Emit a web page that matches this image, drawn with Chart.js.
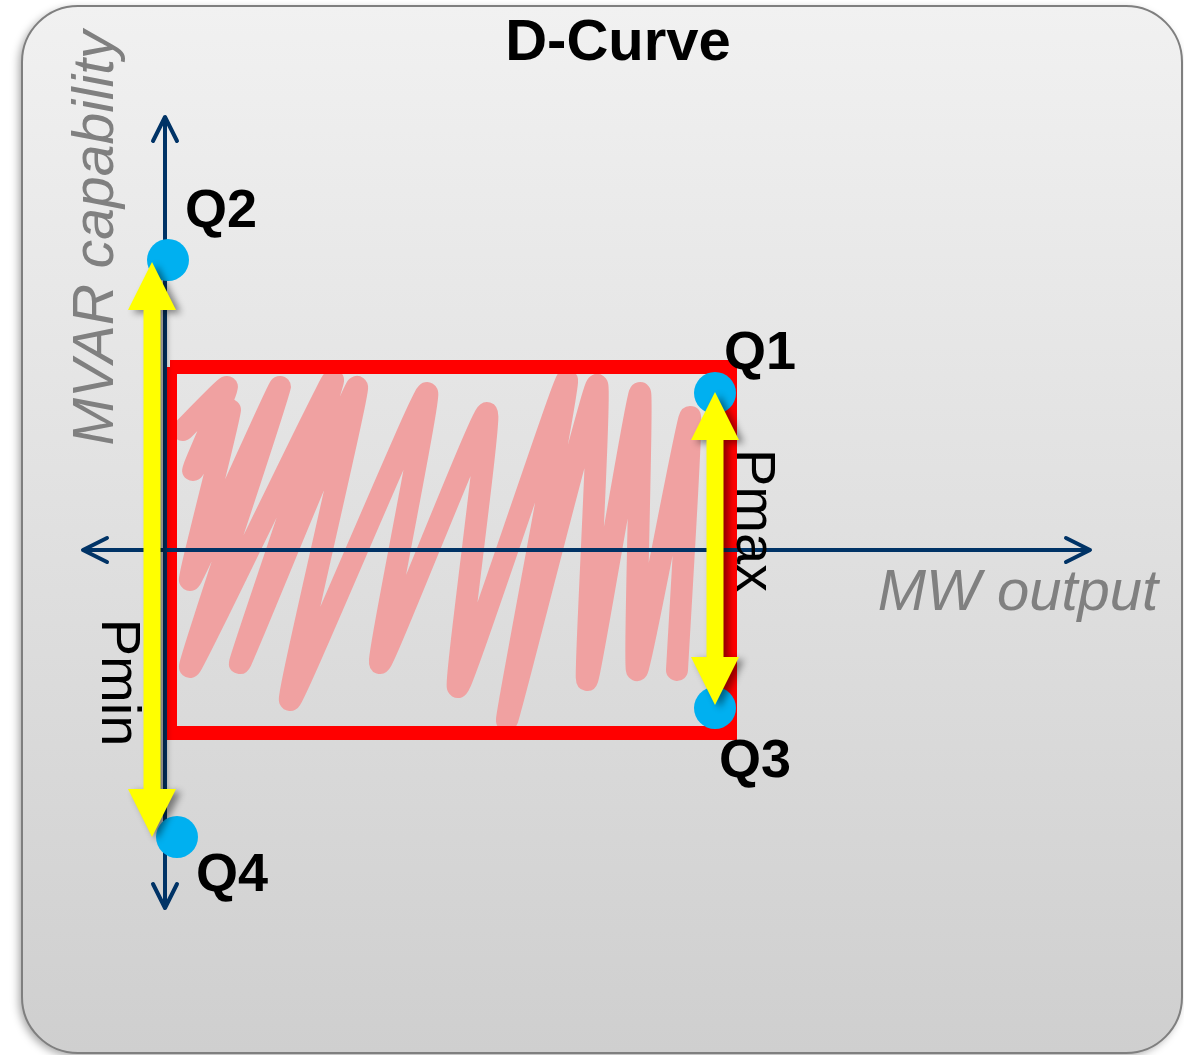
<!DOCTYPE html>
<html lang="en">
<head>
    <meta charset="UTF-8">
    <title>D-Curve</title>
    <script src="https://cdn.jsdelivr.net/npm/chart.js"></script>
    <style>
        html, body { margin: 0; padding: 0; background: #ffffff; }
        #wrap { width: 1184px; height: 1055px; position: relative; }
    </style>
</head>
<body>
    <div id="wrap">
        <canvas id="dcurve" width="1184" height="1055"></canvas>
    </div>

    <script>
        // Units: MW along x, MVAR along y (origin where the axes cross)
        const pMin = 0.05;
        const pMax = 5.65;
        const qTop = 1.83;
        const qBottom = -1.83;

        // capability corner points Q1..Q4
        const qNames = ['Q1', 'Q2', 'Q3', 'Q4'];
        const qX = [5.50, 0.03, 5.50, 0.12];
        const qY = [1.57, 2.90, -1.58, -2.87];

        // yellow range arrows (Pmin on the left, Pmax on the right)
        const rangeNames = ['Pmin', 'Pmax'];
        const rangeX = [-0.13, 5.50];
        const rangeTop = [2.88, 1.58];
        const rangeBottom = [-2.87, -1.55];

        // axis extents
        const axisX = [-0.82, 9.25];
        const axisY = [-3.58, 4.33];

        // hand-drawn shading inside the box
        const hatchX = [0.18, 0.62, 0.28, 0.65, 0.25, 1.15, 0.25, 1.68, 0.75, 1.92, 1.25, 2.62,
                        2.15, 3.22, 2.93, 4.02, 3.42, 4.32, 4.22, 4.75, 4.72, 5.25, 5.12];
        const hatchY = [1.20, 1.63, 0.80, 1.40, -0.30, 1.63, -1.17, 1.70, -1.13, 1.63, -1.50, 1.57,
                        -1.13, 1.37, -1.37, 1.70, -1.70, 1.65, -1.30, 1.57, -1.20, 1.33, -1.20];

        const toPts = (xs, ys) => xs.map((x, i) => ({ x: x, y: ys[i] }));

        const hatchPts = toPts(hatchX, hatchY);
        const boxPts = toPts([pMin, pMax, pMax, pMin, pMin], [qTop, qTop, qBottom, qBottom, qTop]);
        const qPts = toPts(qX, qY);

        const navy = '#003366';

        function panel(ctx, w, h) {
            const x = 22, y = 6, pw = w - 24, ph = h - 8, r = 56;
            ctx.save();
            ctx.shadowColor = 'rgba(0,0,0,0.35)';
            ctx.shadowBlur = 8;
            ctx.shadowOffsetX = -3;
            ctx.shadowOffsetY = 3;
            const g = ctx.createLinearGradient(0, y, 0, y + ph);
            g.addColorStop(0, '#f1f1f1');
            g.addColorStop(1, '#cfcfcf');
            ctx.fillStyle = g;
            ctx.beginPath();
            ctx.roundRect(x, y, pw, ph, r);
            ctx.fill();
            ctx.restore();
            ctx.save();
            ctx.strokeStyle = '#7f7f7f';
            ctx.lineWidth = 2;
            ctx.beginPath();
            ctx.roundRect(x, y, pw, ph, r);
            ctx.stroke();
            ctx.restore();
        }

        function chevron(ctx, tx, ty, dx, dy) {
            // dx,dy is the unit direction the arrow points to
            const back = 24, side = 12;
            ctx.beginPath();
            ctx.moveTo(tx - dx * back - dy * side, ty - dy * back + dx * side);
            ctx.lineTo(tx, ty);
            ctx.lineTo(tx - dx * back + dy * side, ty - dy * back - dx * side);
            ctx.stroke();
        }

        function doubleArrow(ctx, x, y1, y2) {
            const shaft = 17, head = 48, len = 48;
            ctx.beginPath();
            ctx.moveTo(x, y1);
            ctx.lineTo(x + head / 2, y1 + len);
            ctx.lineTo(x + shaft / 2, y1 + len);
            ctx.lineTo(x + shaft / 2, y2 - len);
            ctx.lineTo(x + head / 2, y2 - len);
            ctx.lineTo(x, y2);
            ctx.lineTo(x - head / 2, y2 - len);
            ctx.lineTo(x - shaft / 2, y2 - len);
            ctx.lineTo(x - shaft / 2, y1 + len);
            ctx.lineTo(x - head / 2, y1 + len);
            ctx.closePath();
            ctx.fill();
        }

        const diagram = {
            id: 'diagram',
            beforeDraw(chart) {
                panel(chart.ctx, chart.width, chart.height);
            },
            afterDatasetsDraw(chart) {
                const ctx = chart.ctx;
                const xs = chart.scales.x, ys = chart.scales.y;
                const px = v => xs.getPixelForValue(v);
                const py = v => ys.getPixelForValue(v);

                // axis arrow heads
                ctx.save();
                ctx.strokeStyle = navy;
                ctx.lineWidth = 4;
                ctx.lineCap = 'round';
                ctx.lineJoin = 'round';
                chevron(ctx, px(0), py(axisY[1]), 0, -1);
                chevron(ctx, px(0), py(axisY[0]), 0, 1);
                chevron(ctx, px(axisX[0]), py(0), -1, 0);
                chevron(ctx, px(axisX[1]), py(0), 1, 0);
                ctx.restore();

                // yellow Pmin / Pmax arrows
                ctx.save();
                ctx.fillStyle = '#ffff00';
                ctx.shadowColor = 'rgba(0,0,0,0.45)';
                ctx.shadowBlur = 7;
                ctx.shadowOffsetX = 5;
                ctx.shadowOffsetY = 3;
                rangeX.forEach((v, i) => doubleArrow(ctx, px(v), py(rangeTop[i]), py(rangeBottom[i])));
                ctx.restore();

                ctx.save();
                ctx.fillStyle = '#000000';
                ctx.textAlign = 'center';

                // title
                ctx.font = 'bold 58px "Liberation Sans", Arial, sans-serif';
                ctx.textBaseline = 'alphabetic';
                ctx.fillText('D-Curve', 618, 60);

                // Q labels next to their points
                const qOff = [[45, -39], [53, -48], [40, 54], [55, 39]];
                ctx.font = 'bold 54px "Liberation Sans", Arial, sans-serif';
                ctx.textBaseline = 'middle';
                qNames.forEach((n, i) => {
                    ctx.fillText(n, px(qX[i]) + qOff[i][0], py(qY[i]) + qOff[i][1]);
                });

                // Pmin / Pmax, rotated, beside their arrows
                const rOff = [[-35, 133], [37, -28]];
                ctx.font = '56px "Liberation Sans", Arial, sans-serif';
                rangeNames.forEach((n, i) => {
                    const cy = (py(rangeTop[i]) + py(rangeBottom[i])) / 2;
                    ctx.save();
                    ctx.translate(px(rangeX[i]) + rOff[i][0], cy + rOff[i][1]);
                    ctx.rotate(Math.PI / 2);
                    ctx.fillText(n, 0, 0);
                    ctx.restore();
                });

                // axis titles
                ctx.fillStyle = '#808080';
                ctx.font = 'italic 58px "Liberation Sans", Arial, sans-serif';
                ctx.textBaseline = 'alphabetic';
                ctx.fillText('MW output', 1018, 610);
                ctx.font = 'italic 57px "Liberation Sans", Arial, sans-serif';
                ctx.save();
                ctx.translate(113, 238);
                ctx.rotate(-Math.PI / 2);
                ctx.fillText('MVAR capability', 0, 0);
                ctx.restore();
                ctx.restore();
            }
        };

        new Chart(document.getElementById('dcurve'), {
            type: 'scatter',
            data: {
                datasets: [
                    {
                        label: 'shading',
                        data: hatchPts,
                        showLine: true,
                        borderColor: '#f0a1a1',
                        borderWidth: 22,
                        borderCapStyle: 'round',
                        borderJoinStyle: 'round',
                        tension: 0.12,
                        pointRadius: 0,
                        order: 5
                    },
                    {
                        label: 'box',
                        data: boxPts,
                        showLine: true,
                        borderColor: '#ff0000',
                        borderWidth: 14,
                        borderJoinStyle: 'miter',
                        pointRadius: 0,
                        order: 4
                    },
                    {
                        label: 'MVAR axis',
                        data: [{ x: 0, y: axisY[0] }, { x: 0, y: axisY[1] }],
                        showLine: true,
                        borderColor: navy,
                        borderWidth: 4,
                        pointRadius: 0,
                        order: 3
                    },
                    {
                        label: 'MW axis',
                        data: [{ x: axisX[0], y: 0 }, { x: axisX[1], y: 0 }],
                        showLine: true,
                        borderColor: navy,
                        borderWidth: 4,
                        pointRadius: 0,
                        order: 3
                    },
                    {
                        label: 'Q points',
                        data: qPts,
                        backgroundColor: '#00b0f0',
                        borderWidth: 0,
                        pointRadius: 21,
                        order: 2
                    }
                ]
            },
            options: {
                responsive: false,
                animation: false,
                devicePixelRatio: 1,
                layout: { padding: 0, autoPadding: false },
                plugins: {
                    legend: { display: false },
                    tooltip: { enabled: false }
                },
                scales: {
                    x: { type: 'linear', min: -1.65, max: 10.19, display: false },
                    y: { type: 'linear', min: -5.05, max: 5.50, display: false }
                }
            },
            plugins: [diagram]
        });
    </script>
</body>
</html>
